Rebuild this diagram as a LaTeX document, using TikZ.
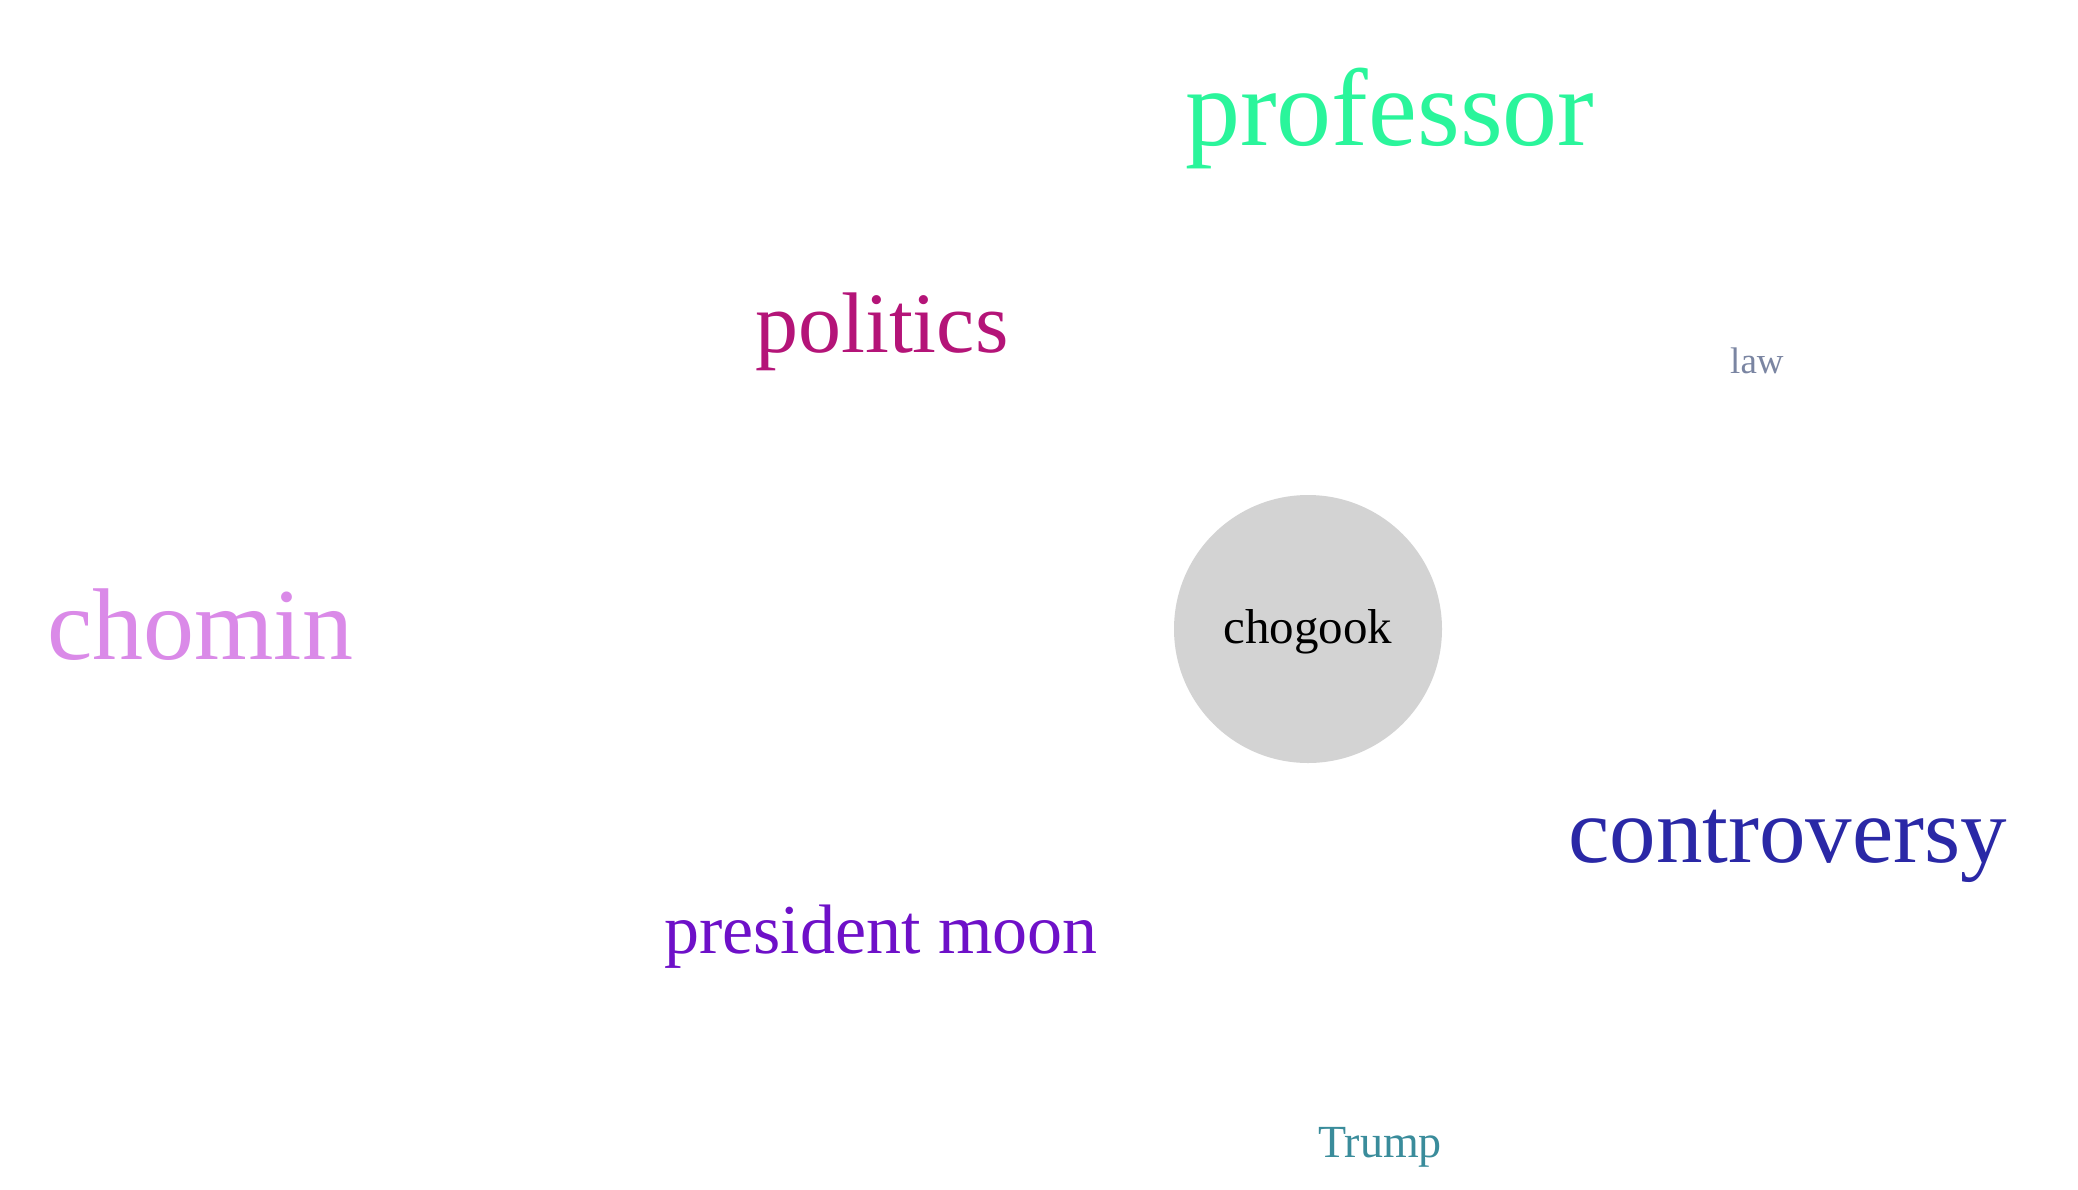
\documentclass[tikz,border=0pt]{standalone}
\usepackage{fontspec}
\setmainfont{Liberation Serif}
\usetikzlibrary{positioning}
\definecolor{profGreen}{RGB}{42, 245, 155}
\definecolor{polMagenta}{RGB}{180, 20, 120}
\definecolor{lawSlate}{RGB}{122, 133, 162}
\definecolor{chominPink}{RGB}{218, 138, 232}
\definecolor{contBlue}{RGB}{42, 40, 166}
\definecolor{moonPurple}{RGB}{110, 16, 200}
\definecolor{trumpTeal}{RGB}{58, 140, 155}
\definecolor{hubGrey}{RGB}{211, 211, 211}
\newcommand{\wsize}[1]{\fontsize{#1}{#1}\selectfont}

\begin{document}
\begin{tikzpicture}[x=1pt,y=-1pt, every node/.style={inner sep=0pt}]
  \tikzset{
    word/.style={anchor=base west},
    hub/.style={circle, fill=hubGrey, minimum size=268pt, text depth=5pt}
  }

  % keep the page at the size of the original
  \path[use as bounding box] (0,0) rectangle (2078,1189);

  % centre term
  \node[hub] (chogook) at (1308,629) {\wsize{49}chogook};

  % surrounding terms
  \node[word, text=profGreen] (professor) at (1185,145) {\wsize{110}professor};
  \node[word, text=polMagenta] (politics) at (755,352) {\wsize{86}politics};
  \node[word, text=lawSlate] (law) at (1730,373) {\wsize{37}law};
  \node[word, text=chominPink] (chomin) at (47,659) {\wsize{102}chomin};
  \node[word, text=contBlue] (controversy) at (1568,862) {\wsize{93}controversy};
  \node[word, text=moonPurple] (moon) at (664,953) {\wsize{70}president moon};
  \node[word, text=trumpTeal] (trump) at (1318,1157) {\wsize{46}Trump};

\end{tikzpicture}
\end{document}
